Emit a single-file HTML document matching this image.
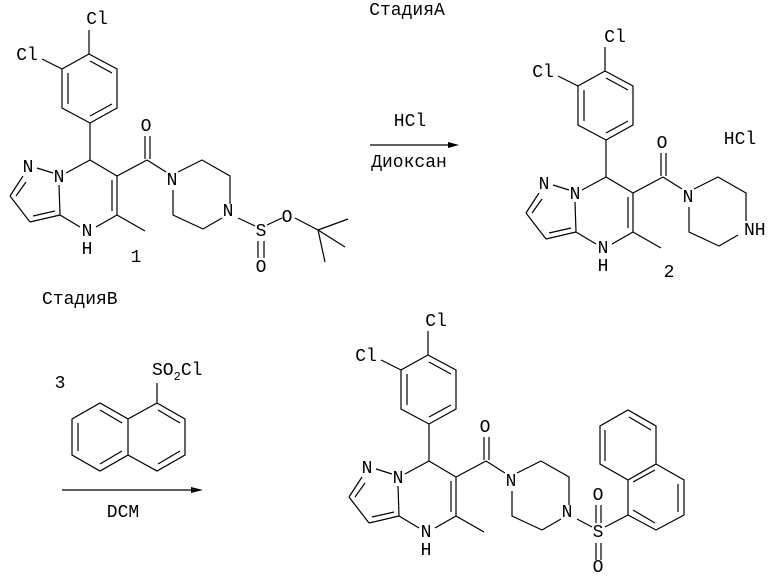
<!DOCTYPE html>
<html><head><meta charset="utf-8"><style>
html,body{margin:0;padding:0;background:#fff;}
svg{display:block;}
text{font-family:"Liberation Mono","DejaVu Sans Mono",monospace;font-size:18px;fill:#000;}
</style></head><body>
<svg width="773" height="583" viewBox="0 0 773 583" xmlns="http://www.w3.org/2000/svg">
<defs>
<g id="core" stroke="#000" stroke-width="1.2" fill="none">
<polyline points="89,54 117,69 117,108 90,123 62,108 62,69 89,54"/>
<line x1="90" y1="61" x2="112" y2="73"/>
<line x1="112" y1="104" x2="90" y2="116"/>
<line x1="68" y1="104" x2="68" y2="73"/>
<line x1="89" y1="54" x2="89" y2="30"/>
<line x1="62" y1="69" x2="42" y2="59"/>
<line x1="90" y1="123" x2="90" y2="160"/>
<line x1="90" y1="160" x2="66" y2="173"/>
<line x1="90" y1="160" x2="117" y2="176"/>
<line x1="117" y1="176" x2="117" y2="215"/>
<line x1="112" y1="180" x2="112" y2="211"/>
<line x1="117" y1="215" x2="145" y2="231"/>
<line x1="117" y1="215" x2="96" y2="227"/>
<line x1="59" y1="185" x2="60" y2="215"/>
<line x1="60" y1="215" x2="80" y2="227"/>
<line x1="37" y1="168" x2="53" y2="173"/>
<line x1="23" y1="176" x2="10" y2="196"/>
<line x1="26" y1="182" x2="16" y2="196"/>
<line x1="10" y1="196" x2="30" y2="222"/>
<line x1="30" y1="222" x2="60" y2="215"/>
<line x1="33" y1="216" x2="55" y2="211"/>
<line x1="117" y1="176" x2="147" y2="160"/>
<line x1="145" y1="159" x2="145" y2="136"/>
<line x1="150" y1="159" x2="150" y2="136"/>
<line x1="147" y1="160" x2="166" y2="172"/>
<polyline points="178,172 202,160 230,176 230,204"/>
<polyline points="222,218 203,229 173,215 173,190"/>
</g>
</defs>

<!-- Molecule 1 -->
<use href="#core"/>
<g stroke="#000" stroke-width="1.2" fill="none">
<line x1="238" y1="218" x2="255" y2="226"/>
<line x1="267" y1="225" x2="282" y2="218"/>
<line x1="295" y1="218" x2="318" y2="230"/>
<line x1="318" y1="230" x2="348" y2="219"/>
<line x1="318" y1="230" x2="345" y2="247"/>
<line x1="318" y1="230" x2="325" y2="262"/>
<line x1="258" y1="241" x2="258" y2="258"/>
<line x1="264" y1="241" x2="264" y2="258"/>
</g>
<g text-anchor="middle" dominant-baseline="central">
<text x="97" y="20">Cl</text>
<text x="27" y="56">Cl</text>
<text x="28" y="168">N</text>
<text x="59" y="178">N</text>
<text x="87" y="232">N</text>
<text x="87" y="250">H</text>
<text x="146" y="127">O</text>
<text x="172" y="181">N</text>
<text x="228" y="212">N</text>
<text x="261" y="232">S</text>
<text x="287" y="218">O</text>
<text x="261" y="268">O</text>
<text x="136" y="258">1</text>
</g>

<!-- Stage A -->
<g text-anchor="middle" dominant-baseline="central">
<text x="407" y="11">СтадияA</text>
<text x="410" y="122">HCl</text>
<text x="409" y="163">Диоксан</text>
</g>
<line x1="370" y1="145" x2="452" y2="145" stroke="#000" stroke-width="1.2"/>
<polygon points="448,142 459,145 448,148" fill="#000"/>

<!-- Molecule 2 -->
<g transform="translate(516,17)">
<use href="#core"/>
<g text-anchor="middle" dominant-baseline="central">
<text x="99" y="21">Cl</text>
<text x="27" y="56">Cl</text>
<text x="28" y="168">N</text>
<text x="59" y="178">N</text>
<text x="87" y="232">N</text>
<text x="87" y="250">H</text>
<text x="146" y="127">O</text>
<text x="172" y="181">N</text>
<text x="153" y="256">2</text>
</g>
<text x="228" y="214" dominant-baseline="central">NH</text>
</g>
<text x="740" y="140" text-anchor="middle" dominant-baseline="central">HCl</text>

<!-- Stage B -->
<text x="42" y="300" dominant-baseline="central">СтадияB</text>
<text x="60" y="384" text-anchor="middle" dominant-baseline="central">3</text>
<text x="152" y="371" dominant-baseline="central">SO<tspan font-size="12" dy="6">2</tspan><tspan dy="-6">Cl</tspan></text>
<g stroke="#000" stroke-width="1.2" fill="none">
<line x1="157" y1="403" x2="157" y2="383"/>
<polyline points="157,403 185,419 185,455 157,471 128,455 128,419 157,403"/>
<polyline points="128,419 100,403 72,419 72,455 100,471 128,455"/>
<line x1="158" y1="410" x2="180" y2="423"/>
<line x1="180" y1="451" x2="158" y2="464"/>
<line x1="100" y1="410" x2="122" y2="423"/>
<line x1="78" y1="423" x2="78" y2="451"/>
<line x1="100" y1="464" x2="122" y2="451"/>
<line x1="62" y1="490" x2="196" y2="490"/>
</g>
<polygon points="191,487 203,490 191,493" fill="#000"/>
<text x="123" y="513" text-anchor="middle" dominant-baseline="central">DCM</text>

<!-- Molecule 3 -->
<g transform="translate(339,301)">
<use href="#core"/>
<g text-anchor="middle" dominant-baseline="central">
<text x="97" y="21">Cl</text>
<text x="27" y="56">Cl</text>
<text x="28" y="168">N</text>
<text x="59" y="178">N</text>
<text x="87" y="232">N</text>
<text x="87" y="250">H</text>
<text x="146" y="127">O</text>
<text x="172" y="181">N</text>
<text x="228" y="212">N</text>
</g>
</g>
<g stroke="#000" stroke-width="1.2" fill="none">
<line x1="577" y1="519" x2="592" y2="527"/>
<line x1="605" y1="527" x2="628" y2="515"/>
<line x1="596" y1="505" x2="596" y2="523"/>
<line x1="601" y1="505" x2="601" y2="523"/>
<line x1="596" y1="543" x2="596" y2="560"/>
<line x1="601" y1="543" x2="601" y2="560"/>
<polyline points="628,515 628,480 600,464 600,426 628,410 656,426 656,464 628,480"/>
<polyline points="656,464 684,480 684,515 656,530 628,515"/>
<line x1="605" y1="461" x2="605" y2="430"/>
<line x1="629" y1="417" x2="651" y2="430"/>
<line x1="633" y1="482" x2="655" y2="470"/>
<line x1="678" y1="484" x2="678" y2="512"/>
<line x1="655" y1="523" x2="633" y2="510"/>
</g>
<g text-anchor="middle" dominant-baseline="central">
<text x="598" y="533">S</text>
<text x="598" y="496">O</text>
<text x="598" y="568">O</text>
</g>
</svg>
</body></html>
